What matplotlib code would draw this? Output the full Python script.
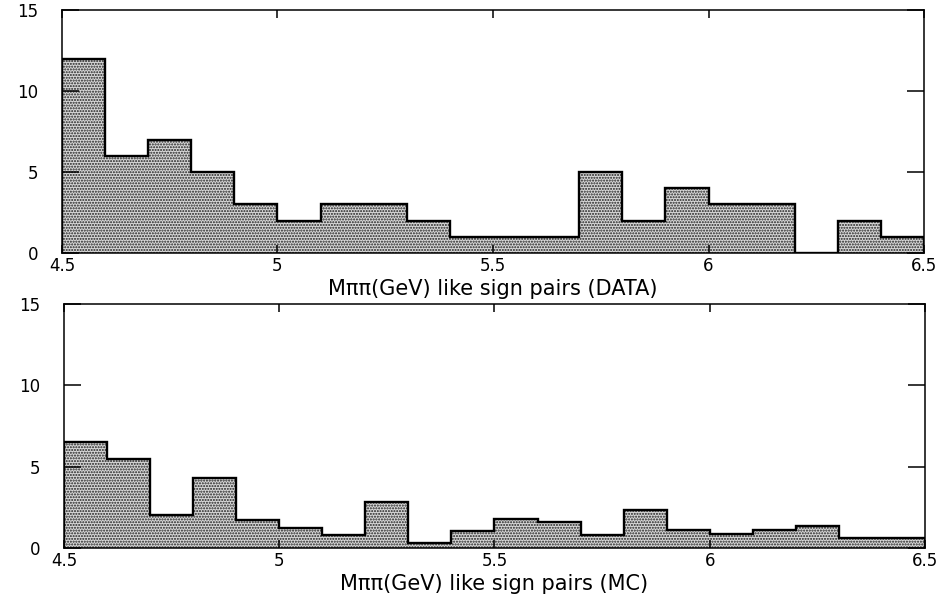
import numpy as np
import matplotlib
matplotlib.use('Agg')
import matplotlib.pyplot as plt

# bin edges, 0.1 GeV wide
edges = np.round(np.arange(4.5, 6.51, 0.1), 2)

# like sign pairs, data
data_counts = [12, 6, 7, 5, 3, 2, 3, 3, 2, 1,
               1, 1, 5, 2, 4, 3, 3, 0, 2, 1]

# like sign pairs, monte carlo
mc_counts = [6.5, 5.5, 2.0, 4.3, 1.75, 1.25, 0.8, 2.85, 0.3, 1.05,
             1.8, 1.6, 0.8, 2.35, 1.1, 0.85, 1.1, 1.35, 0.6, 0.6]

xticks = [4.5, 5, 5.5, 6, 6.5]
xticklabels = ['4.5', '5', '5.5', '6', '6.5']
yticks = [0, 5, 10, 15]
yticklabels = ['0', '5', '10', '15']

plt.rcParams['hatch.color'] = '#202020'
plt.rcParams['hatch.linewidth'] = 1.0

fig = plt.figure(figsize=(9.49, 5.98), dpi=100)
ax1 = fig.add_axes([0.0653, 0.5769, 0.9084, 0.4064])
ax2 = fig.add_axes([0.0674, 0.0836, 0.9073, 0.4080])


def draw_hist(ax, counts, label):
    ax.stairs(counts, edges, fill=True, facecolor='#d8d8d8',
              hatch='......', edgecolor='#202020', linewidth=0)
    ax.stairs(counts, edges, baseline=0, color='black', linewidth=1.7)
    ax.set_xlim(4.5, 6.5)
    ax.set_ylim(0, 15)
    ax.set_xticks(xticks)
    ax.set_xticklabels(xticklabels, fontsize=12)
    ax.set_yticks(yticks)
    ax.set_yticklabels(yticklabels, fontsize=12)
    ax.tick_params(axis='y', direction='in', length=12, width=1.1,
                   right=True, pad=17)
    ax.tick_params(axis='x', direction='in', length=6, width=1.1,
                   top=True, pad=3)
    for s in ax.spines.values():
        s.set_linewidth(1.1)
    ax.set_xlabel(label, fontsize=15, labelpad=3)


draw_hist(ax1, data_counts, 'Mππ(GeV) like sign pairs (DATA)')
draw_hist(ax2, mc_counts, 'Mππ(GeV) like sign pairs (MC)')

fig.savefig('out.png', dpi=100)
